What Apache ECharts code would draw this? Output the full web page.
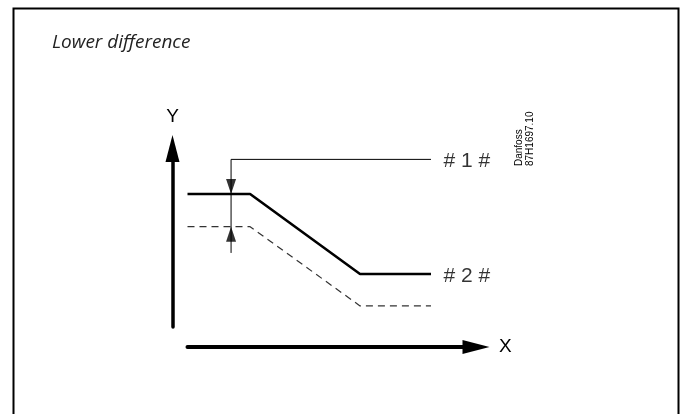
<!DOCTYPE html>
<html>
<head>
<meta charset="utf-8">
<script src="https://cdn.jsdelivr.net/npm/echarts@6/dist/echarts.min.js"></script>
<style>
html,body{margin:0;padding:0;background:#fff;}
#chart{width:684px;height:414px;}
</style>
</head>
<body>
<div id="chart"></div>
<script>
// ---- data (arbitrary 0-100 diagram units) ----
const titleText = 'Lower difference';
const axisNames = ['X', 'Y'];
const curveX = [0, 21.7, 59.8, 84.4];
const upperCurveY = [74.5, 74.5, 29.7, 29.7];
const lowerCurveY = [56.2, 56.2, 11.8, 11.8];
const bracketX = [84.4, 15.1, 15.1];
const bracketY = [93.9, 93.9, 41.5];
const arrowDown = [15.1, 74.5];
const arrowUp = [15.1, 56.2];
const labelUpper = '# 1 #';
const labelCurve = '# 2 #';
const stampText = 'Danfoss\n87H1697.10';

const chart = echarts.init(document.getElementById('chart'), null, {renderer: 'canvas'});

const labelStyle = {fontSize: 21, color: '#000', fontFamily: 'Liberation Sans, Arial, sans-serif'};

const upperData = curveX.map((x, i) => [x, upperCurveY[i]]);
const lowerData = curveX.map((x, i) => [x, lowerCurveY[i]]);
const bracketData = bracketX.map((x, i) => [x, bracketY[i]]);
// label anchors: end of the solid curve and start of the bracket line
const labelPoints = [
  {value: [bracketX[0], bracketY[0]], text: labelUpper},
  {value: [curveX[curveX.length - 1], upperCurveY[upperCurveY.length - 1]], text: labelCurve}
];

const axisCommon = {
  type: 'value', min: 0, max: 100,
  splitLine: {show: false}, axisTick: {show: false}, axisLabel: {show: false},
  nameTextStyle: {fontSize: 19, color: '#000', fontFamily: 'Liberation Sans, Arial, sans-serif'},
  nameLocation: 'end'
};

chart.setOption({
  animation: false,
  backgroundColor: '#fff',
  title: {
    text: titleText, left: 47, top: 28,
    textStyle: {fontStyle: 'italic', fontWeight: 'normal', fontSize: 19,
      fontFamily: 'Open Sans', color: '#222'}
  },
  grid: {left: 187.5, right: 208, top: 148.5, bottom: 87, containLabel: false},
  xAxis: Object.assign({}, axisCommon, {
    name: axisNames[0], nameGap: 23, offset: 20,
    nameTextStyle: Object.assign({}, axisCommon.nameTextStyle, {verticalAlign: 'middle'}),
    axisLine: {show: true, onZero: false, symbol: ['none', 'triangle'], symbolSize: [14, 27],
      lineStyle: {color: '#000', width: 4}}
  }),
  yAxis: Object.assign({}, axisCommon, {
    name: axisNames[1], nameGap: 22, offset: 15,
    axisLine: {show: true, onZero: false, symbol: ['none', 'triangle'], symbolSize: [14, 27],
      lineStyle: {color: '#000', width: 3.5}}
  }),
  series: [
    {type: 'line', data: upperData, showSymbol: false, symbol: 'none',
      lineStyle: {color: '#000', width: 2.6}, silent: true, z: 3},
    {type: 'line', data: lowerData, showSymbol: false, symbol: 'none',
      lineStyle: {color: '#333', width: 1.2, type: [7, 5]}, silent: true, z: 2},
    {type: 'line', data: bracketData, symbol: 'none',
      lineStyle: {color: '#000', width: 1}, silent: true, z: 4},
    {type: 'scatter', data: [arrowDown], symbol: 'triangle', symbolSize: [10, 15],
      symbolRotate: 180, symbolOffset: [0, -7.5], itemStyle: {color: '#000'}, silent: true, z: 5},
    {type: 'scatter', data: [arrowUp], symbol: 'triangle', symbolSize: [10, 15],
      symbolOffset: [0, 7.5], itemStyle: {color: '#000'}, silent: true, z: 5},
    {type: 'scatter', data: labelPoints, symbol: 'circle', symbolSize: 1,
      itemStyle: {color: 'rgba(0,0,0,0)'}, silent: true, z: 6,
      label: Object.assign({show: true, position: 'right', distance: 12, offset: [0, 2],
        formatter: p => p.data.text}, labelStyle)}
  ],
  graphic: [
    {type: 'rect', left: 11, top: 6, silent: true,
      shape: {x: 0, y: 0, width: 665, height: 430},
      style: {fill: 'none', stroke: '#000', lineWidth: 2}},
    {type: 'text', x: 524.5, y: 166, rotation: Math.PI / 2, silent: true,
      style: {text: stampText, fontSize: 10, lineHeight: 11.5, fill: '#000',
        fontFamily: 'Liberation Sans, Arial, sans-serif', align: 'left', verticalAlign: 'middle'}}
  ]
});
</script>
</body>
</html>
